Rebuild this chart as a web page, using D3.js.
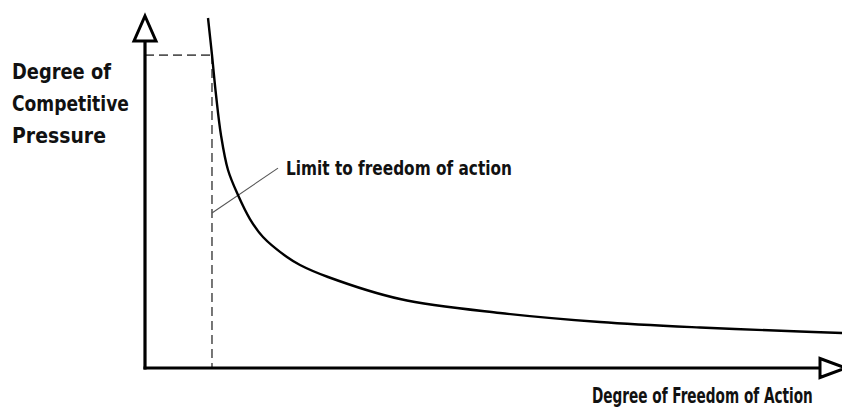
<!DOCTYPE html>
<html>
<head>
<meta charset="utf-8">
<script src="https://cdn.jsdelivr.net/npm/d3@7"></script>
<style>
  html, body { margin: 0; padding: 0; background: #fff; }
  svg { display: block; }
  text { font-family: "DejaVu Sans Condensed", "DejaVu Sans", sans-serif; font-weight: bold; fill: #111; }
</style>
</head>
<body>
<svg id="chart" width="842" height="412"></svg>
<script>
// ---- data ----
const freedom  = [9.04, 9.61, 10.19, 10.90, 11.91, 13.34, 15.06, 16.93, 20.37, 22.24, 26.26, 36.59, 50.93, 65.28, 79.63, 93.97, 100];
const pressure = [100, 89.43, 78.0, 66.57, 56.57, 49.43, 42.57, 37.43, 31.71, 29.43, 26.0, 19.71, 15.71, 13.14, 11.57, 10.43, 10.0];
const limitFreedom = 9.61;
const limitPressure = 89.4;
const annotationFrom = [9.61, 44.3];
const annotationTo = [19.08, 57.1];
const yLabelLines = ["Degree of", "Competitive", "Pressure"];
const xLabel = "Degree of Freedom of Action";
const annotationLabel = "Limit to freedom of action";

// ---- scales ----
const svg = d3.select("#chart");
const x = d3.scaleLinear().domain([0, 100]).range([145, 842]);
const y = d3.scaleLinear().domain([0, 100]).range([368, 18]);

const pts = freedom.map((f, i) => [f, pressure[i]]);

// dashed guide lines
svg.append("line")
  .attr("x1", x(limitFreedom)).attr("x2", x(limitFreedom))
  .attr("y1", y(limitPressure)).attr("y2", y(0))
  .attr("stroke", "#555").attr("stroke-width", 1.6).attr("stroke-dasharray", "9,5");
svg.append("line")
  .attr("x1", x(0)).attr("x2", x(limitFreedom))
  .attr("y1", y(limitPressure)).attr("y2", y(limitPressure))
  .attr("stroke", "#555").attr("stroke-width", 1.6).attr("stroke-dasharray", "9,5");

// annotation pointer
svg.append("line")
  .attr("x1", x(annotationFrom[0])).attr("y1", y(annotationFrom[1]))
  .attr("x2", x(annotationTo[0])).attr("y2", y(annotationTo[1]))
  .attr("stroke", "#555").attr("stroke-width", 1.1);

// curve
svg.append("path")
  .datum(pts)
  .attr("fill", "none")
  .attr("stroke", "#000")
  .attr("stroke-width", 2.4)
  .attr("d", d3.line().x(d => x(d[0])).y(d => y(d[1])).curve(d3.curveCatmullRom.alpha(0.5)));

// axes with open arrowheads
const x0 = x(0), y0 = y(0);
const yTop = y(100);
svg.append("line")
  .attr("x1", x0).attr("x2", x0).attr("y1", y0 + 1.5).attr("y2", yTop + 24)
  .attr("stroke", "#000").attr("stroke-width", 3.2);
svg.append("path")
  .attr("d", `M${x0},${yTop - 2} L${x0 + 11},${yTop + 23} L${x0 - 11},${yTop + 23} Z`)
  .attr("fill", "#fff").attr("stroke", "#000").attr("stroke-width", 3).attr("stroke-linejoin", "miter");

const xEnd = x(100);
svg.append("line")
  .attr("x1", x0 - 1.5).attr("x2", xEnd - 22).attr("y1", y0).attr("y2", y0)
  .attr("stroke", "#000").attr("stroke-width", 3.2);
svg.append("path")
  .attr("d", `M${xEnd + 4},${y0} L${xEnd - 22},${y0 - 9.5} L${xEnd - 22},${y0 + 9.5} Z`)
  .attr("fill", "#fff").attr("stroke", "#000").attr("stroke-width", 3).attr("stroke-linejoin", "miter");

// condensed text helper: draw at natural size, then squeeze horizontally to the target width
function narrowText(str, left, baseline, size, width) {
  const t = svg.append("text")
    .attr("x", 0).attr("y", 0)
    .attr("font-size", size)
    .text(str);
  const natural = t.node().getComputedTextLength();
  const s = width / natural;
  t.attr("transform", `translate(${left},${baseline}) scale(${s},1)`);
  return t;
}

const yWidths = [99, 117, 94];
const yBaselines = [79, 111, 143];
yLabelLines.forEach((t, i) => narrowText(t, 12, yBaselines[i], 22, yWidths[i]));

narrowText(xLabel, 592, 403, 22, 221);
narrowText(annotationLabel, 286, 175, 20, 226);
</script>
</body>
</html>
